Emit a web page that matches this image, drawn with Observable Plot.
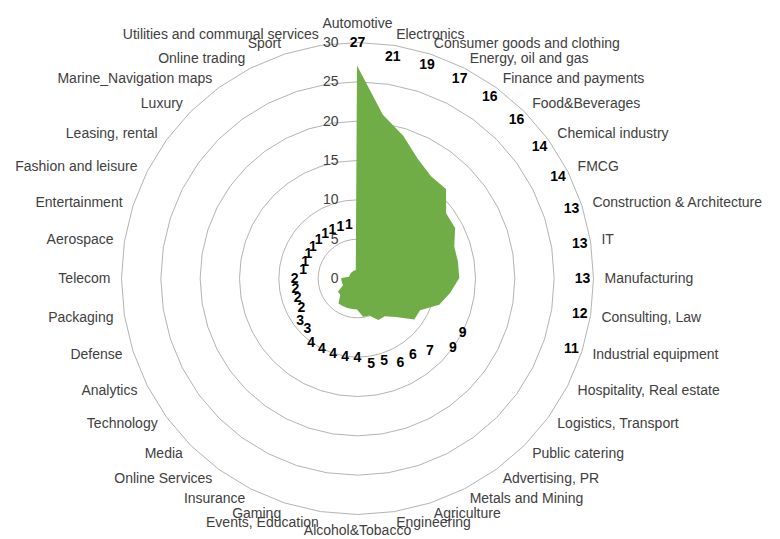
<!DOCTYPE html>
<html><head><meta charset="utf-8">
<script src="https://cdn.jsdelivr.net/npm/d3@7"></script>
<script src="https://cdn.jsdelivr.net/npm/@observablehq/plot@0.6"></script>
<style>html,body{margin:0;padding:0;background:#fff;}</style>
</head><body><div id="chart"></div>
<script>
const categories = ["Automotive","Electronics","Consumer goods and clothing","Energy, oil and gas","Finance and payments","Food&Beverages","Chemical industry","FMCG","Construction & Architecture","IT","Manufacturing","Consulting, Law","Industrial equipment","Hospitality, Real estate","Logistics, Transport","Public catering","Advertising, PR","Metals and Mining","Agriculture","Engineering","Alcohol&Tobacco","Events, Education","Gaming","Insurance","Online Services","Media","Technology","Analytics","Defense","Packaging","Telecom","Aerospace","Entertainment","Fashion and leisure","Leasing, rental","Luxury","Marine_Navigation maps","Online trading","Sport","Utilities and communal services"];
const values = [27,21,19,17,16,16,14,14,13,13,13,12,11,9,9,7,6,6,5,5,4,4,4,4,4,3,3,2,2,2,2,1,1,1,1,1,1,1,1,1];
const ticks = [0,5,10,15,20,25,30];

const W = 780, H = 539, cx = 357, cy = 278, k = 236 / 30;
const n = categories.length;
const ang = i => i * 2 * Math.PI / n;
const px = (r, i) => r * Math.sin(ang(i));
const py = (r, i) => r * Math.cos(ang(i));

const rings = ticks.filter(t => t > 0).flatMap(t => d3.range(n + 1).map(i => ({level: t, x: px(t, i), y: py(t, i)})));
const shape = d3.range(n + 1).map(i => ({x: px(values[i % n], i), y: py(values[i % n], i)}));

const catData = categories.map((c, i) => {
  const s = Math.sin(ang(i)), co = Math.cos(ang(i));
  const mid = Math.abs(s) < 0.01;
  const r = mid ? (co > 0 ? 255 : 252) / k : 247 / k;
  return {c, x: r * s, y: r * co, anchor: mid ? "middle" : (s > 0 ? "start" : "end")};
});
const valData = values.map((v, i) => {
  const r = v >= 10 ? Math.max(28.6, v + 3) : v + 6;
  return {v, x: px(r, i), y: py(r, i)};
});

const catMark = a => Plot.text(catData.filter(d => d.anchor === a), {x: "x", y: "y", text: "c", textAnchor: a, fill: "#404040", fontSize: 14});

const chart = Plot.plot({
  width: W, height: H, margin: 0,
  style: {fontFamily: "'Liberation Sans', Arial, sans-serif", background: "#fff"},
  x: {domain: [-cx / k, (W - cx) / k], range: [0, W], axis: null},
  y: {domain: [-(H - cy) / k, cy / k], range: [H, 0], axis: null},
  marks: [
    Plot.line(rings, {x: "x", y: "y", z: "level", stroke: "#b3b3b3", strokeWidth: 1}),
    Plot.area(shape, {x1: "x", y1: "y", x2: 0, y2: 0, fill: "#70ad47"}),
    Plot.text(ticks, {x: 0, y: d => d, text: d => String(d), textAnchor: "end", dx: -19, fill: "#404040", fontSize: 14}),
    catMark("start"), catMark("end"), catMark("middle"),
    Plot.text(valData, {x: "x", y: "y", text: "v", fill: "#000", fontSize: 14, fontWeight: "bold"})
  ]
});
document.getElementById("chart").append(chart);
</script>
</body></html>
